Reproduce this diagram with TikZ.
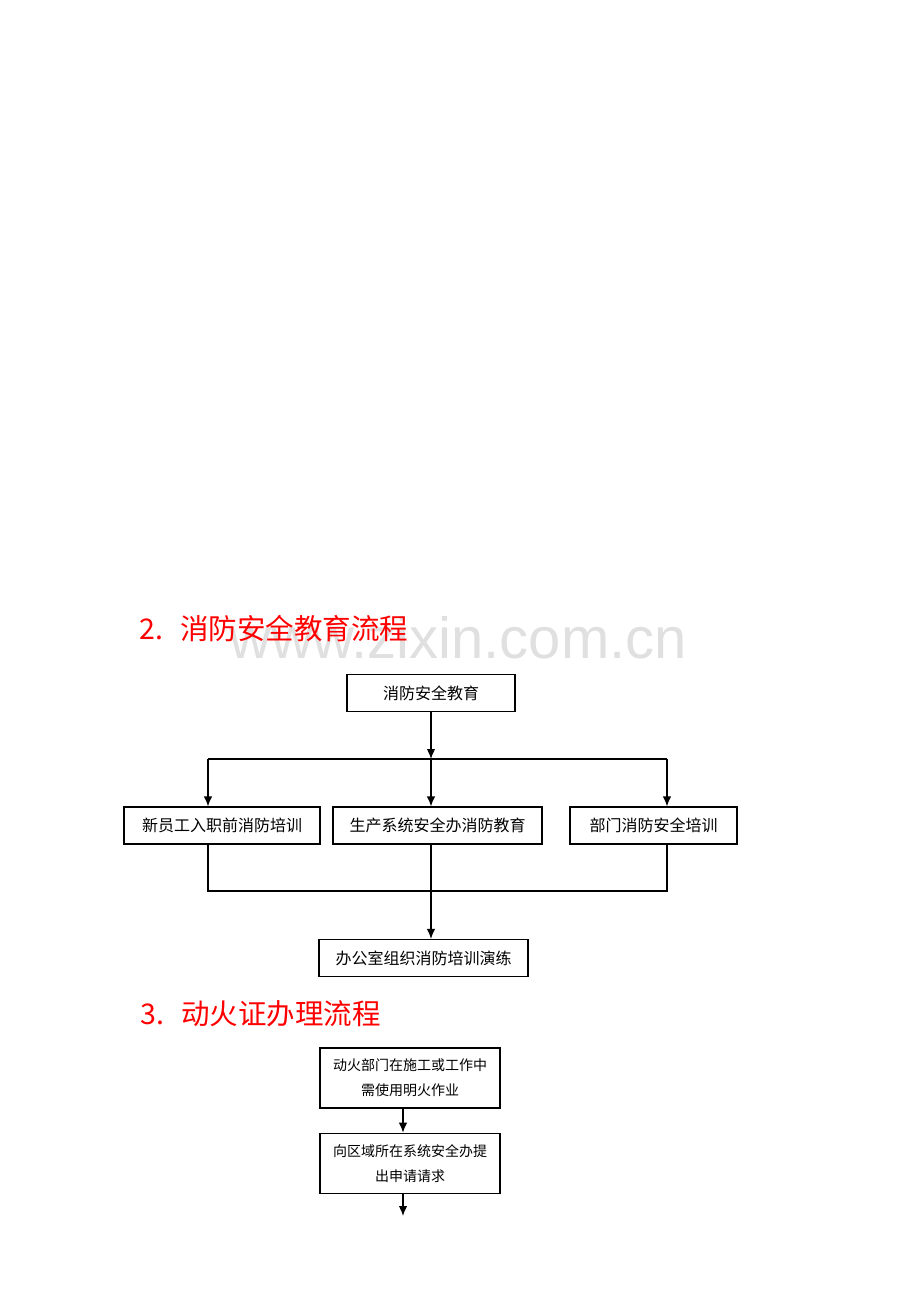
\documentclass[tikz,border=0pt]{standalone}
\usepackage{fontspec}
\newfontfamily\cjk{Noto Sans CJK SC}
\newfontfamily\wmfont{Liberation Sans}
\usetikzlibrary{arrows.meta,positioning}

\begin{document}
\begin{tikzpicture}[x=1pt, y=-1pt, >={Latex[length=10pt,width=8.5pt]}, line width=1.2pt,
  box/.style={draw, minimum height=37pt, inner sep=0pt, font=\cjk\fontsize{16}{18}\selectfont},
  tallbox/.style={draw, minimum width=180pt, minimum height=60pt, inner sep=0pt, align=center,
    font=\cjk\fontsize{14}{25}\selectfont},
  title/.style={anchor=west, inner sep=0pt, text=red, font=\cjk\fontsize{28.5}{30}\selectfont}]

\useasboundingbox (0,0) rectangle (920,1302);

% watermark
\node[anchor=base, text=black!12, inner sep=0pt, font=\wmfont\fontsize{58}{60}\selectfont] (wm) at (458,658) {www.zixin.com.cn};

% 2.
\node[title] (t2) at (139,629) {2.\hspace{17pt}消防安全教育流程};

\node[box, minimum width=168pt] (edu)   at (431,693)   {消防安全教育};
\node[box, minimum width=196pt] (newemp) at (222,825.5) {新员工入职前消防培训};
\node[box, minimum width=209pt] (prod)  at (437.5,825.5) {生产系统安全办消防教育};
\node[box, minimum width=167pt] (dept)  at (653.5,825.5) {部门消防安全培训};
\node[box, minimum width=209pt] (office) at (423.5,958) {办公室组织消防培训演练};

\coordinate (sl) at (208,759);
\coordinate (sm) at (431,759);
\coordinate (sr) at (667,759);
\coordinate (jl) at (208,891);
\coordinate (jm) at (431,891);
\coordinate (jr) at (667,891);

\draw[->] (edu.south -| sm) -- (sm);
\draw (sl) -- (sr);
\draw[->] (sl) -- (sl |- newemp.north);
\draw[->] (sm) -- (sm |- prod.north);
\draw[->] (sr) -- (sr |- dept.north);

\draw (jl |- newemp.south) -- (jl) -- (jr) -- (jr |- dept.south);
\draw[->] (jm |- prod.south) -- (jm |- office.north);

% 3.
\node[title] (t3) at (140,1014) {3.\hspace{17pt}动火证办理流程};

\node[tallbox] (fire)  at (410,1078) {动火部门在施工或工作中\\需使用明火作业};
\node[tallbox] (apply) [below=24pt of fire] {向区域所在系统安全办提\\出申请请求};
\coordinate (next) at (403,1216);

\draw[->] ([xshift=-7pt]fire.south) -- ([xshift=-7pt]apply.north);
\draw[->] (next |- apply.south) -- (next);
\end{tikzpicture}
\end{document}
